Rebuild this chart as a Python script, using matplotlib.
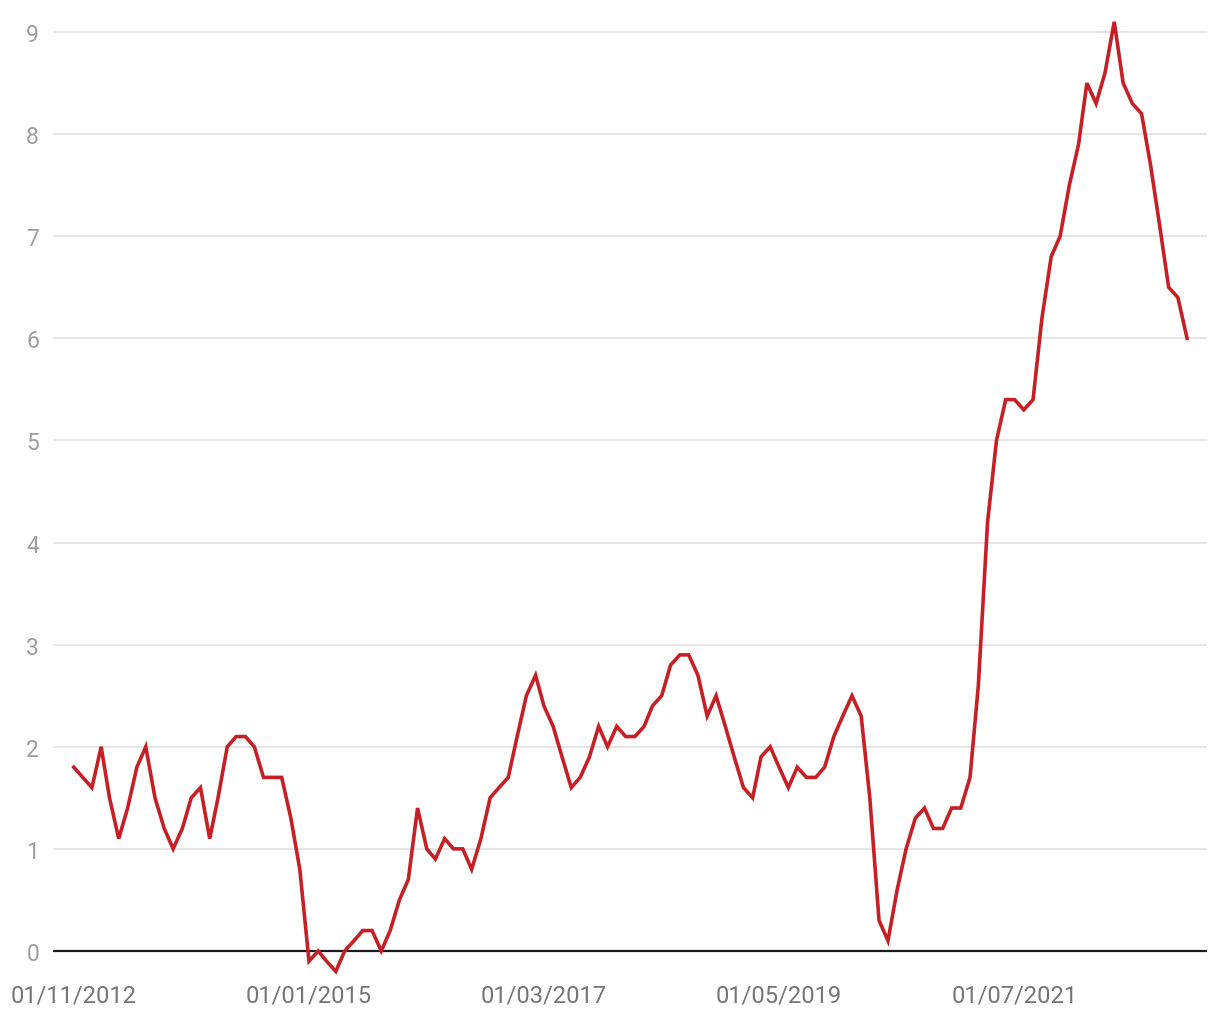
import matplotlib
matplotlib.use("Agg")
import matplotlib.pyplot as plt
import pandas as pd

start = "2012-11-01"
values = [1.8, 1.7, 1.6, 2.0, 1.5, 1.1, 1.4, 1.8, 2.0, 1.5, 1.2, 1.0,
          1.2, 1.5, 1.6, 1.1, 1.5, 2.0, 2.1, 2.1, 2.0, 1.7, 1.7, 1.7,
          1.3, 0.8, -0.1, 0.0, -0.1, -0.2, 0.0, 0.1, 0.2, 0.2, 0.0, 0.2,
          0.5, 0.7, 1.4, 1.0, 0.9, 1.1, 1.0, 1.0, 0.8, 1.1, 1.5, 1.6,
          1.7, 2.1, 2.5, 2.7, 2.4, 2.2, 1.9, 1.6, 1.7, 1.9, 2.2, 2.0,
          2.2, 2.1, 2.1, 2.2, 2.4, 2.5, 2.8, 2.9, 2.9, 2.7, 2.3, 2.5,
          2.2, 1.9, 1.6, 1.5, 1.9, 2.0, 1.8, 1.6, 1.8, 1.7, 1.7, 1.8,
          2.1, 2.3, 2.5, 2.3, 1.5, 0.3, 0.1, 0.6, 1.0, 1.3, 1.4, 1.2,
          1.2, 1.4, 1.4, 1.7, 2.6, 4.2, 5.0, 5.4, 5.4, 5.3, 5.4, 6.2,
          6.8, 7.0, 7.5, 7.9, 8.5, 8.3, 8.6, 9.1, 8.5, 8.3, 8.2, 7.7,
          7.1, 6.5, 6.4, 6.0]
dates = pd.date_range(start, periods=len(values), freq="MS")
tick_dates = ["2012-11-01", "2015-01-01", "2017-03-01", "2019-05-01", "2021-07-01"]
y_ticks = list(range(0, 10))

plt.rcParams['font.family'] = ['Roboto', 'DejaVu Sans']

fig = plt.figure(figsize=(12.2, 10.2), dpi=100)
ax = fig.add_axes([53/1220, (1020-977.5)/1020, (1207-53)/1220, 970/1020])

for y in y_ticks:
    if y == 0:
        continue
    ax.axhline(y, color="#e0e0e0", lw=1.2, zorder=1)
ax.axhline(0, color="#1a1a1a", lw=1.6, zorder=2)

ax.plot(dates, values, color="#c62026", lw=2.6, zorder=3, solid_joinstyle="miter")

ax.set_ylim(-0.25, 9.25)
x0 = pd.Timestamp(start) - pd.Timedelta(days=70)
x1 = dates[-1] + pd.Timedelta(days=67)
ax.set_xlim(x0, x1)

ax.set_yticks(y_ticks)
ax.set_yticklabels([str(y) for y in y_ticks])
ax.set_xticks(pd.to_datetime(tick_dates))
ax.set_xticklabels([pd.Timestamp(d).strftime("%d/%m/%Y") for d in tick_dates])

ax.tick_params(axis="y", length=0, pad=10, labelsize=16.5, labelcolor="#9e9e9e")
ax.tick_params(axis="x", length=0, pad=5, labelsize=17, labelcolor="#757575")
for s in ax.spines.values():
    s.set_visible(False)

fig.savefig("out.png", dpi=100)
